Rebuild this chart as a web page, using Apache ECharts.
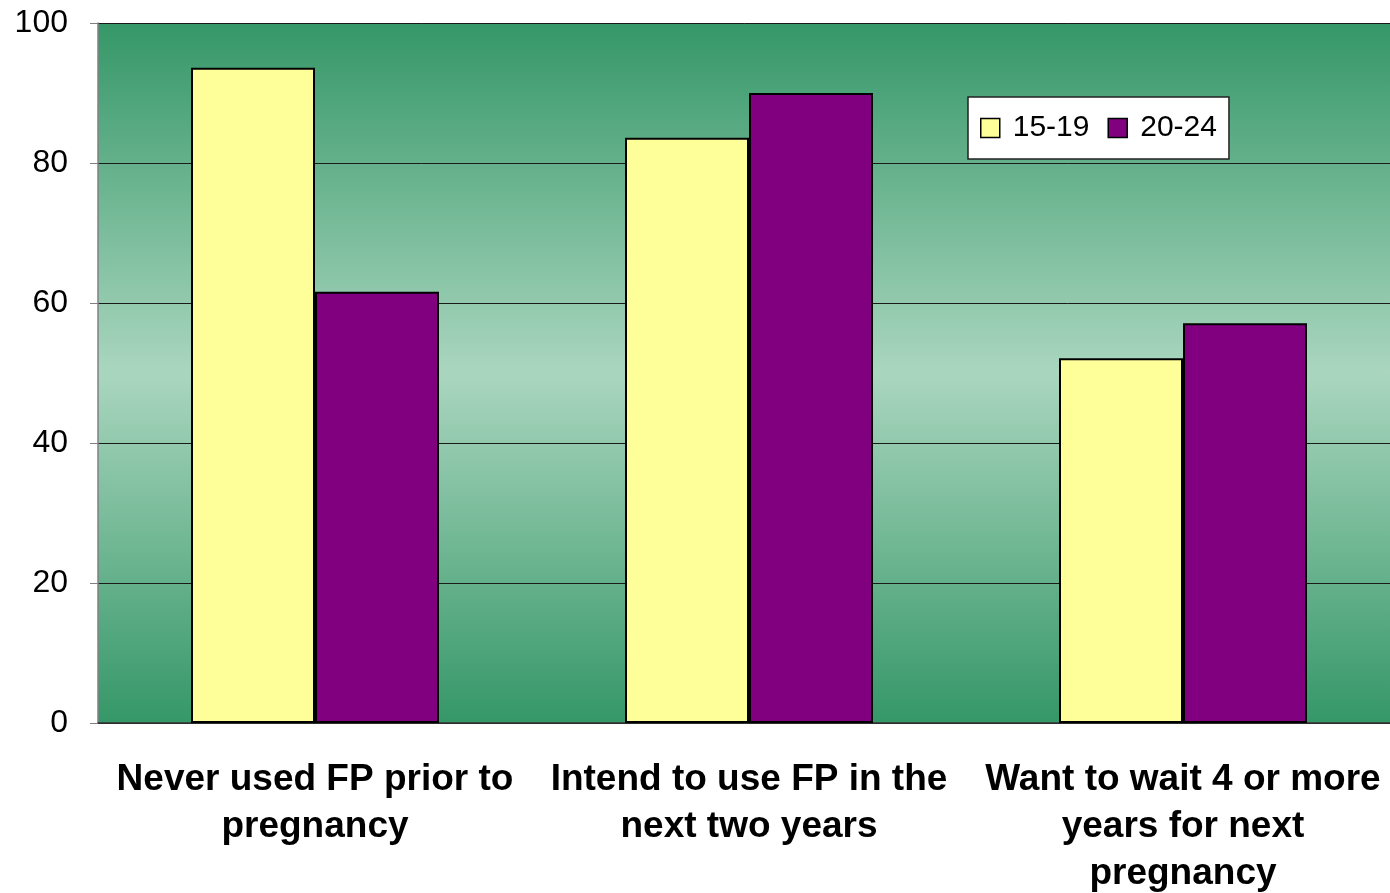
<!DOCTYPE html>
<html><head><meta charset="utf-8">
<script src="https://cdn.jsdelivr.net/npm/echarts@6/dist/echarts.min.js"></script>
<style>html,body{margin:0;padding:0;background:#fff}#c{width:1390px;height:893px}</style>
</head><body><div id="c"></div>
<script>
const categories = ['Never used FP prior to\npregnancy', 'Intend to use FP in the\nnext two years', 'Want to wait 4 or more\nyears for next\npregnancy'];
const seriesNames = ['15-19', '20-24'];
const values1519 = [93.6, 83.6, 52.1];
const values2024 = [61.6, 90.0, 57.1];
const yTicks = [0, 20, 40, 60, 80, 100];

const chart = echarts.init(document.getElementById('c'));
chart.setOption({
  animation: false,
  grid: {
    left: 98, right: -10, top: 23, bottom: 170, show: true, borderWidth: 0,
    outerBoundsMode: 'none', containLabel: false,
    backgroundColor: {type: 'linear', x: 0, y: 0, x2: 0, y2: 1, colorStops: [
      {offset: 0, color: '#359768'}, {offset: 0.5, color: '#aad6bf'}, {offset: 1, color: '#359768'}]}
  },
  legend: {
    data: seriesNames, left: 968, top: 97, width: 262, height: 53,
    padding: [16, 12, 16, 12], backgroundColor: '#fff', borderColor: '#222', borderWidth: 1.5,
    itemWidth: 19, itemHeight: 19, itemGap: 18, icon: 'rect',
    itemStyle: {borderColor: '#000', borderWidth: 1.5},
    textStyle: {fontFamily: 'Liberation Sans, Arial', fontSize: 30, color: '#000', padding: [0, 0, 0, 8]}
  },
  xAxis: {
    type: 'category', data: categories,
    axisLine: {lineStyle: {color: '#333', width: 1.5}},
    axisTick: {length: 10, lineStyle: {color: '#333'}},
    axisLabel: {interval: 0, margin: 33, fontFamily: 'Liberation Sans, Arial', fontWeight: 'bold',
      fontSize: 37, color: '#000', lineHeight: 47, verticalAlign: 'top'}
  },
  yAxis: {
    type: 'value', min: yTicks[0], max: yTicks[yTicks.length - 1], interval: 20,
    axisLine: {show: true, lineStyle: {color: '#808080', width: 1.5}},
    axisTick: {show: true, length: 8, lineStyle: {color: '#808080'}},
    axisLabel: {margin: 30, fontFamily: 'Liberation Sans, Arial', fontSize: 32, color: '#000'},
    splitLine: {lineStyle: {color: '#1a1a1a', width: 1}}
  },
  series: [
    {name: seriesNames[0], type: 'bar', data: values1519, barWidth: 124, barGap: '0%',
      itemStyle: {color: '#ffff99', borderColor: '#000', borderWidth: 2}},
    {name: seriesNames[1], type: 'bar', data: values2024, barWidth: 124, barGap: '0%',
      itemStyle: {color: '#800080', borderColor: '#000', borderWidth: 2}}
  ]
});
</script></body></html>
